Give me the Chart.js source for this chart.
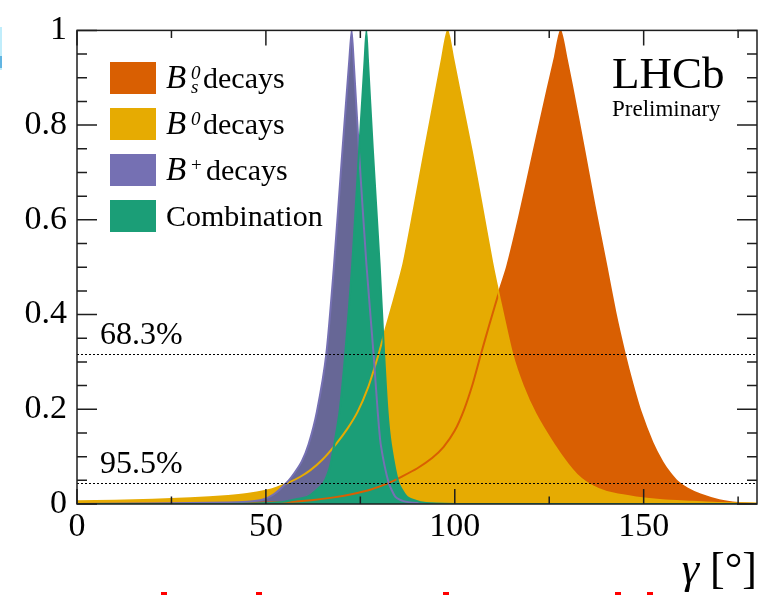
<!DOCTYPE html>
<html>
<head>
<meta charset="utf-8">
<script src="https://cdn.jsdelivr.net/npm/chart.js@4.4.1/dist/chart.umd.min.js"></script>
<style>
  html, body { margin: 0; padding: 0; background: #fff; }
  #wrap { width: 764px; height: 595px; }
</style>
</head>
<body>
<div id="wrap"><canvas id="gammaChart" width="764" height="595"></canvas></div>
<script>
// 1 - CL scans versus gamma [deg]
const bsGamma = [0, 30, 50, 57, 62, 68, 73, 78, 82.7, 86, 90, 94, 97, 100, 102.5, 104.8, 106.8, 109.2, 111.8, 113.8,
  117, 120.9, 124.5, 126.4, 128, 129.6, 131, 134.3, 137, 140.2, 142.5, 145, 147, 149.2, 152.3, 155, 157, 159, 161.5, 165,
  170, 175, 180];
const bsCL = [0, 0.001, 0.003, 0.005, 0.008, 0.014, 0.021, 0.031, 0.045, 0.058, 0.075, 0.097, 0.12, 0.155, 0.2, 0.255, 0.313, 0.38, 0.45, 0.5,
  0.605, 0.746, 0.875, 0.94, 1, 0.94, 0.885, 0.746, 0.63, 0.5, 0.405, 0.317, 0.255, 0.195, 0.13, 0.088, 0.065, 0.047, 0.033, 0.02,
  0.008, 0.002, 0];

const b0Gamma = [0, 10, 20, 30, 40, 45, 50, 53, 56, 59, 61.7, 65, 68.5, 71.5, 74.3, 77, 79.6, 81, 83.5, 86.4,
  89, 92, 95, 96.6, 98.1, 99.6, 101.2, 104.5, 107, 109.9, 112, 115.2, 118, 121.4, 126.2, 130, 132.3, 134.6, 138, 142,
  148, 155, 162, 170, 180];
const b0CL = [0.006, 0.007, 0.009, 0.012, 0.017, 0.021, 0.028, 0.035, 0.045, 0.057, 0.071, 0.094, 0.126, 0.158, 0.195, 0.245, 0.31, 0.35, 0.42, 0.507,
  0.615, 0.745, 0.872, 0.94, 1, 0.94, 0.876, 0.745, 0.638, 0.51, 0.43, 0.317, 0.25, 0.19, 0.126, 0.083, 0.062, 0.047, 0.032, 0.022,
  0.014, 0.008, 0.005, 0.002, 0.001];

const bpGamma = [0, 20, 30, 40, 45, 49, 52, 55.5, 57.5, 59.5, 61.3, 63.5, 66, 68, 70.2, 72.1, 72.7, 73.2, 74.6, 76.6,
  78.5, 79.6, 80.4, 82.5, 84.3, 86.4, 90, 95, 180];
const bpCL = [0, 0.001, 0.002, 0.003, 0.005, 0.009, 0.02, 0.045, 0.065, 0.09, 0.126, 0.195, 0.317, 0.5, 0.74, 0.94, 1, 0.94, 0.75, 0.507,
  0.317, 0.195, 0.126, 0.045, 0.015, 0.006, 0.002, 0, 0];

const combGamma = [0, 40, 50, 55, 58, 60.9, 63, 65.3, 67, 68.1, 69.5, 71, 72.8, 74.7, 76.15, 76.6, 77, 78.3, 80.1, 81.3,
  82.2, 83.1, 85.1, 87.4, 90.9, 95, 100, 180];
const combCL = [0, 0, 0.002, 0.005, 0.01, 0.015, 0.027, 0.045, 0.08, 0.126, 0.195, 0.317, 0.5, 0.75, 0.94, 1, 0.94, 0.75, 0.507, 0.317,
  0.195, 0.126, 0.045, 0.015, 0.004, 0.001, 0, 0];

const xTicks = [0, 50, 100, 150];
const yTicks = [0, 0.2, 0.4, 0.6, 0.8, 1];
const yTickLabels = ['0', '0.2', '0.4', '0.6', '0.8', '1'];
const clLevels = [0.317, 0.045];
const clLabels = ['68.3%', '95.5%'];

const legendText = ['decays', 'decays', 'decays', 'Combination'];
const legendSup = ['0', '0', '+', null];
const legendSub = ['s', null, null, null];
const legendColors = ['#d95f02', '#e6ab02', '#7570b3', '#1b9e77'];

const SERIF = '"Liberation Serif", "DejaVu Serif", serif';

function pts(xs, ys) {
  return xs.map((g, i) => ({ x: g, y: ys[i] }));
}

function scan(data, fillColor, lineColor, order) {
  return {
    data, order,
    backgroundColor: fillColor,
    borderColor: lineColor,
    borderWidth: 2,
    fill: 'origin',
    pointRadius: 0,
    tension: 0.2
  };
}

// frame with inward ticks, CL guides and all the annotation text
const decorations = {
  id: 'decorations',
  afterDatasetsDraw(chart) {
    const { ctx, chartArea: a, scales: { x, y } } = chart;
    ctx.save();

    ctx.strokeStyle = '#000';
    ctx.lineWidth = 1;
    ctx.setLineDash([2, 2]);
    clLevels.forEach(v => {
      const py = Math.round(y.getPixelForValue(v)) + 0.5;
      ctx.beginPath();
      ctx.moveTo(a.left, py);
      ctx.lineTo(a.right, py);
      ctx.stroke();
    });
    ctx.setLineDash([]);

    ctx.strokeStyle = '#1e1e1e';
    ctx.lineWidth = 1.5;
    ctx.strokeRect(a.left, a.top, a.right - a.left, a.bottom - a.top);

    ctx.beginPath();
    for (let g = 0; g <= 180; g += 25) {
      const px = x.getPixelForValue(g);
      const len = g % 50 === 0 ? 15 : 7.5;
      ctx.moveTo(px, a.bottom); ctx.lineTo(px, a.bottom - len);
      ctx.moveTo(px, a.top); ctx.lineTo(px, a.top + len);
    }
    for (let i = 0; i <= 20; i++) {
      const py = y.getPixelForValue(i * 0.05);
      const len = i % 4 === 0 ? 20 : 10;
      ctx.moveTo(a.left, py); ctx.lineTo(a.left + len, py);
      ctx.moveTo(a.right, py); ctx.lineTo(a.right - len, py);
    }
    ctx.stroke();

    ctx.fillStyle = '#000';
    ctx.textAlign = 'left';
    ctx.textBaseline = 'alphabetic';
    ctx.font = '32px ' + SERIF;
    clLevels.forEach((v, i) => {
      ctx.fillText(clLabels[i], a.left + 23, y.getPixelForValue(v) - 10);
    });

    // legend
    legendText.forEach((txt, i) => {
      const top = 62 + i * 46;
      const base = top + 26;
      ctx.fillStyle = legendColors[i];
      ctx.fillRect(110, top, 46, 32);
      ctx.fillStyle = '#000';
      let tx = 166;
      if (legendSup[i]) {
        ctx.font = 'italic 33px ' + SERIF;
        ctx.fillText('B', tx, base);
        const sx = tx + 25;
        const plus = legendSup[i] === '+';
        ctx.font = (plus ? '' : 'italic ') + '19px ' + SERIF;
        ctx.fillText(legendSup[i], sx, base - 9);
        if (legendSub[i]) {
          ctx.font = 'italic 19px ' + SERIF;
          ctx.fillText(legendSub[i], sx, base + 5);
        }
        tx = sx + (plus ? 15 : 12);
      }
      ctx.font = '30px ' + SERIF;
      ctx.fillText(txt, tx, base);
    });

    ctx.font = '45px ' + SERIF;
    ctx.fillText('LHCb', 612, 88);
    ctx.font = '23px ' + SERIF;
    ctx.fillText('Preliminary', 612, 116);

    // axis title, right aligned to the frame
    ctx.font = '44px ' + SERIF;
    const rest = ' [\u00b0]';
    const wRest = ctx.measureText(rest).width;
    ctx.font = 'italic 44px ' + SERIF;
    const wG = ctx.measureText('\u03b3').width;
    const startX = a.right - wRest - wG;
    ctx.fillText('\u03b3', startX, 583);
    ctx.font = '44px ' + SERIF;
    ctx.fillText(rest, startX + wG, 583);

    // stray edge marks
    ctx.fillStyle = '#f00';
    [161, 256, 443, 615, 647].forEach(mx => ctx.fillRect(mx, 592, 6, 3));
    ctx.fillStyle = 'rgba(150, 225, 248, 0.6)';
    ctx.fillRect(0, 27, 2, 43);
    ctx.fillStyle = 'rgba(74, 168, 220, 0.8)';
    ctx.fillRect(0, 56, 2, 12);

    ctx.restore();
  }
};

new Chart(document.getElementById('gammaChart'), {
  type: 'line',
  data: {
    datasets: [
      scan(pts(bsGamma, bsCL), '#d95f02', '#d95f02', 3),
      scan(pts(b0Gamma, b0CL), '#e6ab02', '#e6ab02', 2),
      scan(pts(bpGamma, bpCL), '#676796', '#7570b3', 1),
      scan(pts(combGamma, combCL), '#1b9e77', '#1b9e77', 0)
    ]
  },
  options: {
    responsive: false,
    animation: false,
    devicePixelRatio: 1,
    layout: { padding: { top: 23, right: 7, left: 0, bottom: 0 } },
    plugins: {
      legend: { display: false },
      tooltip: { enabled: false },
      filler: { drawTime: 'beforeDatasetsDraw' }
    },
    scales: {
      x: {
        type: 'linear', min: 0, max: 180,
        grid: { display: false, drawTicks: false },
        border: { display: false },
        afterBuildTicks: s => { s.ticks = xTicks.map(v => ({ value: v })); },
        afterFit: s => { s.height = 91; },
        ticks: { color: '#000', padding: 3, maxRotation: 0, font: { family: SERIF, size: 34 } }
      },
      y: {
        min: 0, max: 1,
        grid: { display: false, drawTicks: false },
        border: { display: false },
        afterBuildTicks: s => { s.ticks = yTicks.map(v => ({ value: v })); },
        afterFit: s => { s.width = 77; },
        ticks: {
          color: '#000', padding: 10, font: { family: SERIF, size: 34 },
          callback: v => yTickLabels[yTicks.indexOf(v)]
        }
      }
    }
  },
  plugins: [decorations]
});
</script>
</body>
</html>
